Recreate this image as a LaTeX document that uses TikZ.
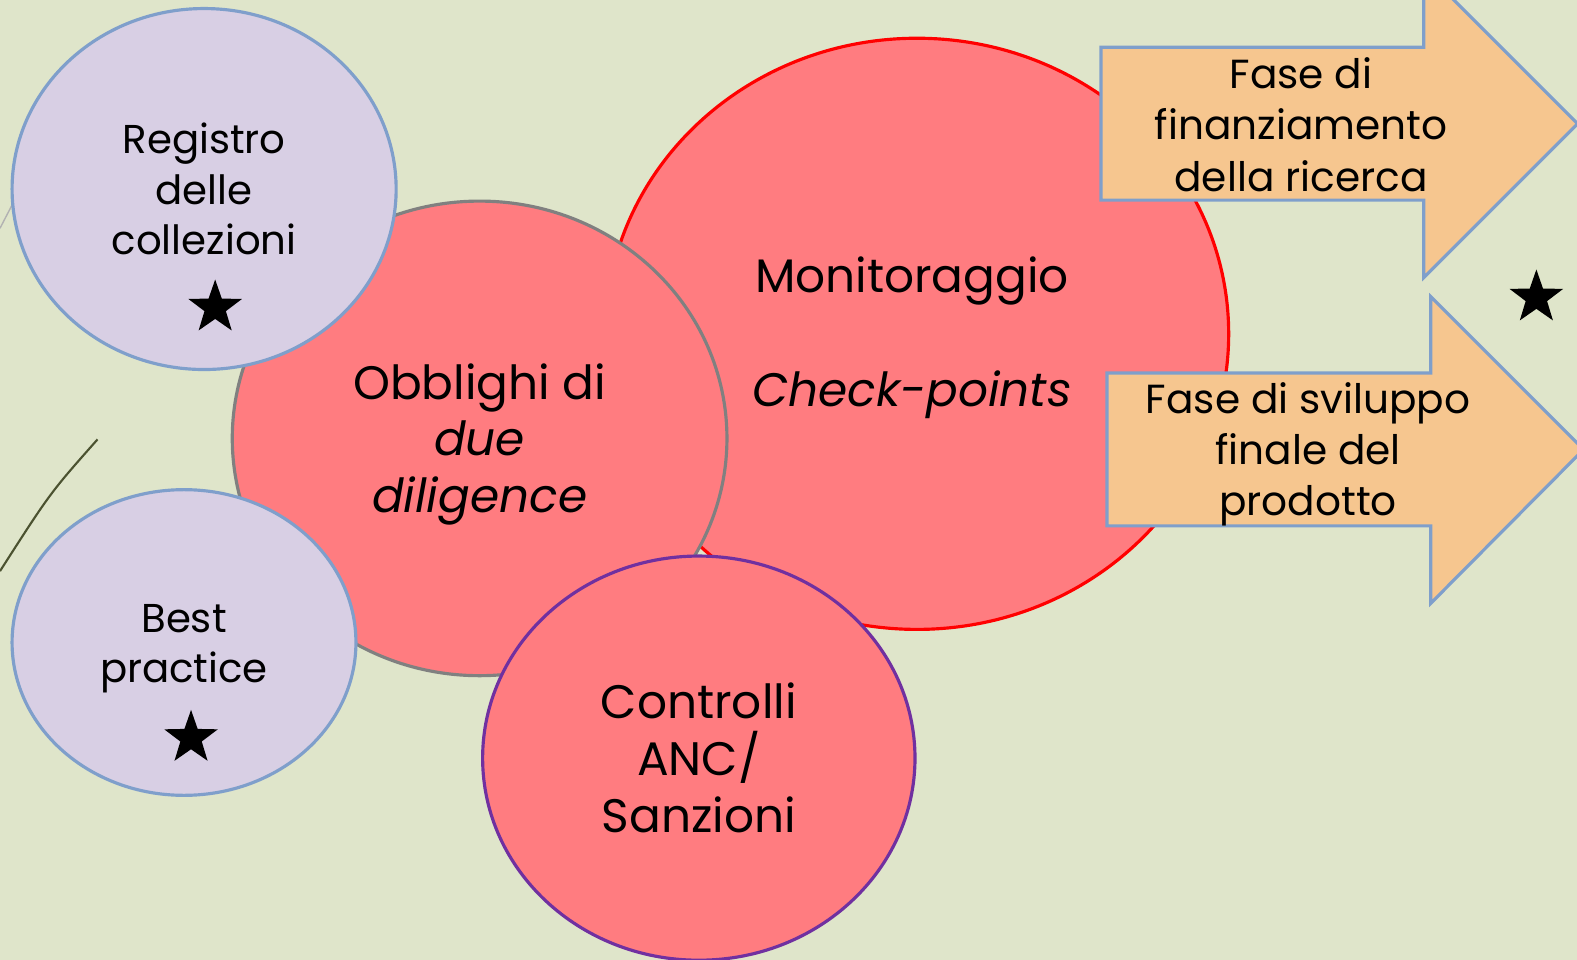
\documentclass[tikz,border=0pt]{standalone}
\usepackage{fontspec}
\setmainfont{Poppins}
\usetikzlibrary{shapes.geometric}
\definecolor{bgpage}{HTML}{DFE5CA}
\definecolor{lilla}{HTML}{D8CFE4}
\definecolor{rosa}{HTML}{FF7C80}
\definecolor{arancio}{HTML}{F6C68F}
\definecolor{bordoblu}{HTML}{7F9FCB}
\definecolor{viola}{HTML}{7030A0}
\definecolor{oliva}{HTML}{4B5230}
\begin{document}
\begin{tikzpicture}[x=0.010055cm, y=-0.010055cm,
		bolla/.style={ellipse, inner sep=0pt, line width=0.9pt, align=center},
		grande/.style={font=\fontsize{13.37}{16.2}\selectfont},
		piccola/.style={font=\fontsize{11.46}{14.3}\selectfont},
		fase/.style={fill=arancio, draw=bordoblu, line width=0.9pt, line join=miter},
		stella/.style={star, star points=5, star point ratio=2.5, fill=black, inner sep=0pt, minimum size=0.563cm}]
		\fill[bgpage] (0,0) rectangle (1568.4,954.7);
		\useasboundingbox (0,0) rectangle (1568.4,954.7);
		
		% linee decorative
		\draw[black!30, line width=0.4pt] (0,227) -- (14,200);
		\draw[oliva, line width=0.6pt] (97,437) .. controls (50,490) .. (0,568);
		
		%========================================================================
		% Cerchi
		\node[bolla, grande, fill=rosa, draw=red, minimum width=6.234cm, minimum height=5.912cm] (monit) at (912,332) {};
		\node[align=center, grande] (monittxt) at (907,336)
			{Monitoraggio\\[0.573cm]\itshape Check-points};
		
		\draw[fase] (1095,47) -- (1416,47) -- (1416,-30) -- (1569,123) -- (1416,276) -- (1416,199) -- (1095,199) -- cycle;
		\draw[fase] (1101,371) -- (1423,371) -- (1423,295) -- (1575,447) -- (1423,600) -- (1423,523) -- (1101,523) -- cycle;
		\node[align=center, font=\fontsize{11.56}{14.6}\selectfont] (finanz) at (1294,124)
			{Fase di\\finanziamento\\della ricerca};
		\node[align=center, font=\fontsize{11.56}{14.6}\selectfont] (svil) at (1301,452)
			{Fase di sviluppo\\finale del\\prodotto};
		
		\node[bolla, grande, fill=rosa, draw=black!50, minimum width=4.947cm, minimum height=4.746cm] (obbl) at (477,436) {};
		\node[align=center, grande] (obbltxt) at (477,442)
			{Obblighi di\\\itshape due\\\itshape diligence};
		\node[bolla, grande, fill=rosa, draw=viola, minimum width=4.324cm, minimum height=4.042cm] (contr) at (695,754)
			{Controlli\\ANC/\\Sanzioni};
		\node[bolla, piccola, fill=lilla, draw=bordoblu, minimum width=3.841cm, minimum height=3.61cm] (regis) at (203,188)
			{Registro\\delle\\collezioni};
		\node[bolla, piccola, fill=lilla, draw=bordoblu, minimum width=3.439cm, minimum height=3.057cm] (best) at (183,639) {};
		\node[align=center, piccola] (besttxt) at (183,645)
			{Best\\practice};
		
		%========================================================================
		% Stelle
		\node[stella] (st1) at (214,306) {};
		\node[stella] (st2) at (190,734) {};
		\node[stella] (st3) at (1528,296) {};
	\end{tikzpicture}
\end{document}
